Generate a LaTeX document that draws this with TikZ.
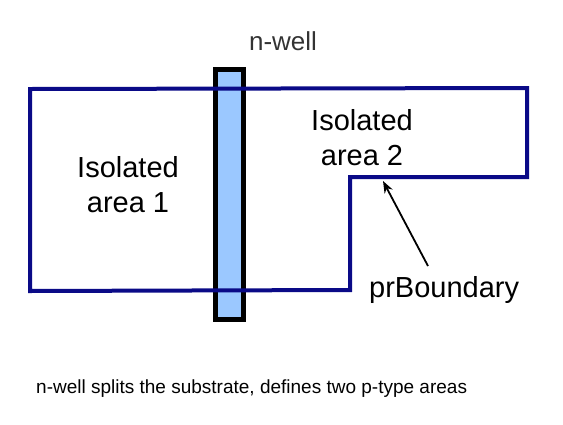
\documentclass[tikz,border=0pt]{standalone}
\usepackage{fontspec}
\setmainfont{Liberation Sans}
\usetikzlibrary{arrows.meta}
\definecolor{navy}{RGB}{10,10,135}
\definecolor{wellblue}{RGB}{155,200,255}
\tikzset{
  big/.style={font=\fontsize{29}{35}\selectfont, align=center, anchor=base, inner sep=0pt},
  small/.style={font=\fontsize{19}{22}\selectfont, anchor=base west, inner sep=0pt}
}
\begin{document}
\begin{tikzpicture}[x=1pt, y=-1pt]
\useasboundingbox (0,0) rectangle (563,424);

% n-well
\draw[line width=5pt, fill=wellblue] (215.5,69.5) rectangle (243.5,319.5);
\node[font=\fontsize{26}{30}\selectfont, anchor=base, inner sep=0pt, text=black!80] (nwell) at (283,50) {n-well};

% boundary of the p-type region
\draw[navy, line width=4pt, line join=miter]
  (30,89) -- (527,88) -- (527,177) -- (350,177) -- (350,290) -- (30,291) -- cycle;

\node[big] (area1) at (128,212) {Isolated\\area 1};
\node[big] (area2) at (362,165) {Isolated\\area 2};

\node[big, anchor=base west] (prb) at (369,297) {prBoundary};
\coordinate (tail) at (428,266);
\coordinate (tip) at (383,181);
\draw[line width=1.8pt, -{Stealth[length=12pt,width=9pt]}] (tail) -- (tip);

\node[small] (caption) at (36,393) {n-well splits the substrate, defines two p-type areas};

\end{tikzpicture}
\end{document}
